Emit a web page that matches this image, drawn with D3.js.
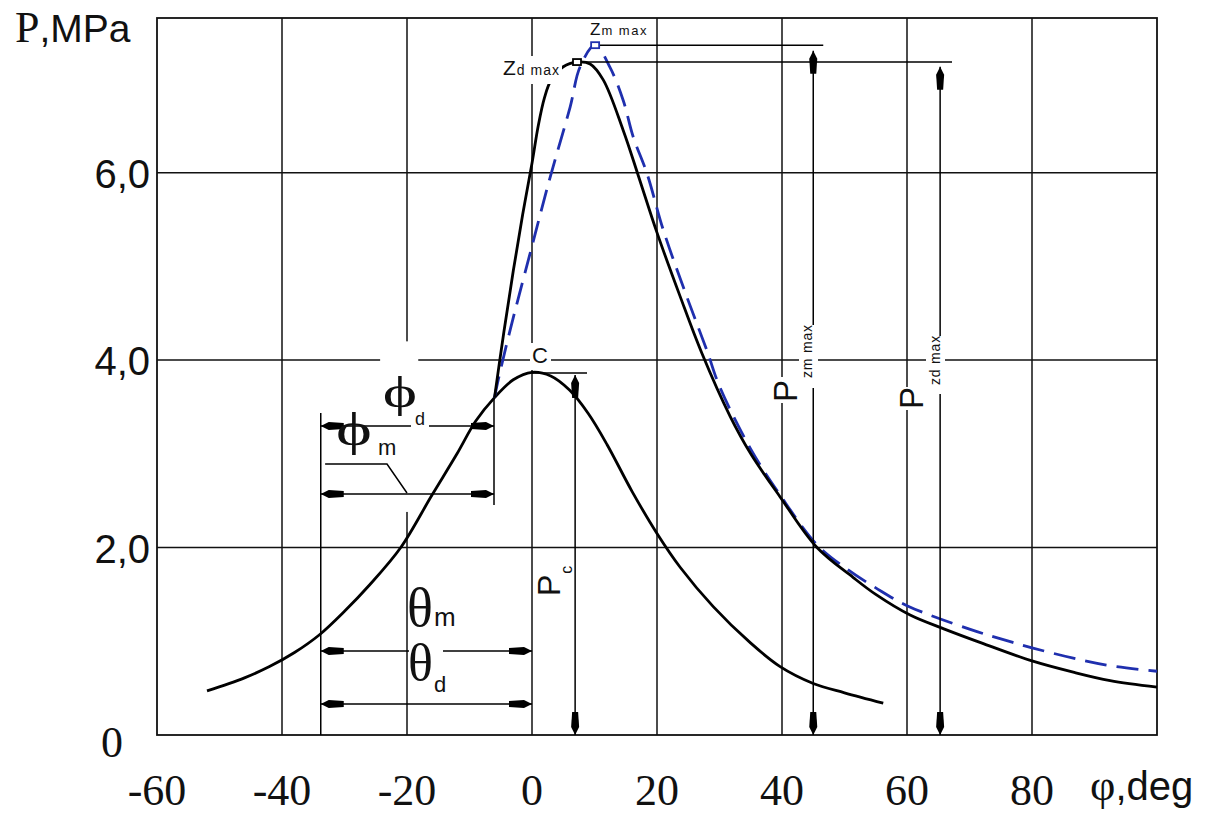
<!DOCTYPE html>
<html><head><meta charset="utf-8">
<script src="https://cdn.jsdelivr.net/npm/d3@7"></script>
<style>body{margin:0;background:#fff}</style>
</head><body>
<svg id="chart" width="1217" height="819"></svg>
<script>
// ---------- data ----------
const xTicks = [-60, -40, -20, 0, 20, 40, 60, 80];
const xGrid = [-40, -20, 0, 20, 40, 60, 80];
const yGrid = [2, 4, 6];
const yTickLabels = ["2,0", "4,0", "6,0"];
const yZeroLabel = "0";

// compression curve (Pc)
const compDeg = [-52, -46, -42, -38, -34, -30, -26, -21, -16, -12, -9, -6, -3, 0, 3, 6, 9, 12, 16, 20, 23.7, 29, 35, 39.7, 45, 50, 56.2];
const compP   = [0.47, 0.61, 0.73, 0.88, 1.07, 1.32, 1.6, 2.0, 2.56, 3.0, 3.35, 3.6, 3.79, 3.87, 3.83, 3.68, 3.43, 3.1, 2.6, 2.15, 1.79, 1.37, 0.98, 0.73, 0.55, 0.45, 0.34];

// combustion, solid black (d)
const dDeg = [-6, -4.5, -3, -1.5, 0, 1, 2, 3, 5, 7.2, 9.3, 11.4, 14.6, 17, 20, 23.7, 27.2, 31.7, 35, 39.7, 45.6, 51.4, 55, 60.5, 66, 72, 80, 86.6, 92.5, 100];
const dP   = [3.6, 4.3, 4.95, 5.55, 6.1, 6.5, 6.8, 6.98, 7.13, 7.18, 7.16, 6.99, 6.45, 5.97, 5.36, 4.68, 4.07, 3.4, 3.0, 2.54, 2.0, 1.68, 1.5, 1.28, 1.13, 0.98, 0.79, 0.67, 0.58, 0.51];

// combustion, blue dashed (m)
const mDeg = [-6, -5.4, -3.5, -0.3, 2.9, 6.1, 7.7, 10.1, 12.5, 14.6, 16.2, 18.4, 21, 24.8, 28, 30, 35, 39.7, 45.6, 50.4, 55, 60, 70, 76.8, 80, 86.6, 92.5, 100];
const mP   = [3.6, 3.79, 4.32, 5.14, 5.95, 6.7, 7.13, 7.36, 7.12, 6.77, 6.38, 5.99, 5.39, 4.67, 4.1, 3.72, 3.05, 2.56, 2.03, 1.77, 1.57, 1.38, 1.13, 0.99, 0.93, 0.82, 0.74, 0.68];

// annotation reference values (deg / MPa)
const phiStartDeg = -33.8, junctionDeg = -6.08, junctionP = 3.595;
const phiDLevel = 3.297, phiMLevel = 2.571, thetaMLevel = 0.896, thetaDLevel = 0.331;
const cPeak = [0, 3.862], pcArrowDeg = 6.9, cTickEnd = 8.8;
const zdPeak = [7.2, 7.18], zmPeak = [10.1, 7.36];
const pzdDeg = 65.3, pzdEnd = 67.2, pzmDeg = 45.0, pzmEnd = 46.6;

// ---------- setup ----------
const W = 1217, H = 819;
const M = {l: 157, r: 60, t: 18, b: 84};
const svg = d3.select("#chart");
const x = d3.scaleLinear().domain([-60, 100]).range([M.l, W - M.r]);
const y = d3.scaleLinear().domain([0, 7.65]).range([H - M.b, M.t]);
const SANS = "'Liberation Sans', Arial, sans-serif";
const SERIF = "'Liberation Serif', 'Times New Roman', serif";
const BLUE = "#1f2fae";

svg.append("rect").attr("width", W).attr("height", H).attr("fill", "#fff");

const defs = svg.append("defs");
defs.append("marker").attr("id", "arr")
  .attr("viewBox", "-24 -5 25 10").attr("refX", 0).attr("refY", 0)
  .attr("markerWidth", 25).attr("markerHeight", 10)
  .attr("markerUnits", "userSpaceOnUse").attr("orient", "auto-start-reverse")
  .append("path").attr("d", "M0,0 L-8,-4 L-23,-3 L-23,3 L-8,4 Z").attr("fill", "#000");

// ---------- grid ----------
const grid = svg.append("g").attr("stroke", "#111").attr("stroke-width", 1.5);
grid.selectAll(".gx").data(xGrid).join("line")
  .attr("x1", d => x(d)).attr("x2", d => x(d)).attr("y1", y(7.65)).attr("y2", y(0));
grid.selectAll(".gy").data(yGrid).join("line")
  .attr("x1", x(-60)).attr("x2", x(100)).attr("y1", d => y(d)).attr("y2", d => y(d));
svg.append("rect").attr("x", x(-60)).attr("y", y(7.65))
  .attr("width", x(100) - x(-60)).attr("height", y(0) - y(7.65))
  .attr("fill", "none").attr("stroke", "#111").attr("stroke-width", 1.8);

// white patch in the original drawing
svg.append("rect").attr("x", x(-24.3)).attr("y", y(4.2)).attr("width", x(-18.2) - x(-24.3))
  .attr("height", y(2.38) - y(4.2)).attr("fill", "#fff");

// ---------- axes labels ----------
svg.selectAll(".xt").data(xTicks).join("text")
  .attr("x", d => x(d)).attr("y", 805).attr("text-anchor", "middle")
  .attr("font-family", SERIF).attr("font-size", 44).attr("fill", "#111")
  .text(d => d);
svg.selectAll(".yt").data(yGrid).join("text")
  .attr("x", 150).attr("y", d => y(d) + 15).attr("text-anchor", "end")
  .attr("font-family", SANS).attr("font-size", 40).attr("fill", "#111")
  .text((d, i) => yTickLabels[i]);
svg.append("text").attr("x", 112).attr("y", y(0) + 22).attr("text-anchor", "middle")
  .attr("font-family", SERIF).attr("font-size", 44).attr("fill", "#111").text(yZeroLabel);

const pt = svg.append("text").attr("x", 15).attr("y", 42).attr("fill", "#111");
pt.append("tspan").attr("font-family", SERIF).attr("font-size", 44).text("P");
pt.append("tspan").attr("font-family", SANS).attr("font-size", 39).text(",MPa");

const ft = svg.append("text").attr("x", 1090).attr("y", 800).attr("fill", "#111");
ft.append("tspan").attr("font-family", SERIF).attr("font-size", 44).text("φ");
ft.append("tspan").attr("font-family", SANS).attr("font-size", 40).text(",deg");

// ---------- curves ----------
const line = d3.line().x(d => x(d[0])).y(d => y(d[1])).curve(d3.curveCatmullRom.alpha(0.5));
svg.append("path").datum(d3.zip(compDeg, compP)).attr("d", line)
  .attr("fill", "none").attr("stroke", "#000").attr("stroke-width", 2.8);
svg.append("path").datum(d3.zip(mDeg, mP)).attr("d", line)
  .attr("fill", "none").attr("stroke", BLUE).attr("stroke-width", 2.8).attr("stroke-dasharray", "22,10");
svg.append("path").datum(d3.zip(dDeg, dP)).attr("d", line)
  .attr("fill", "none").attr("stroke", "#000").attr("stroke-width", 2.8);

// ---------- dimension lines ----------
const dim = svg.append("g").attr("stroke", "#000").attr("stroke-width", 1.5).attr("fill", "none");
function seg(x1, y1, x2, y2, arrows) {
  const l = dim.append("line").attr("x1", x(x1)).attr("y1", y(y1)).attr("x2", x(x2)).attr("y2", y(y2));
  if (arrows) l.attr("marker-start", "url(#arr)").attr("marker-end", "url(#arr)");
  return l;
}
// extension lines
seg(phiStartDeg, 3.435, phiStartDeg, 0);
seg(junctionDeg, junctionP, junctionDeg, 2.454);
// phi lines
seg(phiStartDeg, phiDLevel, junctionDeg, phiDLevel, true);
seg(phiStartDeg, phiMLevel, junctionDeg, phiMLevel, true);
dim.append("path").attr("d", d3.line()([[x(-33.1), y(2.891)], [x(-23.2), y(2.891)], [x(-20), y(2.582)]]));
// theta lines
seg(phiStartDeg, thetaMLevel, 0, thetaMLevel, true);
seg(phiStartDeg, thetaDLevel, 0, thetaDLevel, true);
// Pc
seg(cPeak[0], cPeak[1], cTickEnd, cPeak[1]);
seg(pcArrowDeg, cPeak[1] - 0.02, pcArrowDeg, 0, true);
// Pz max
seg(zmPeak[0], zmPeak[1], pzmEnd, zmPeak[1]);
seg(zdPeak[0], zdPeak[1], pzdEnd, zdPeak[1]);
seg(pzmDeg, zmPeak[1] - 0.06, pzmDeg, 0, true);
seg(pzdDeg, zdPeak[1] - 0.05, pzdDeg, 0, true);

// peak markers
svg.append("rect").attr("x", x(zmPeak[0]) - 4).attr("y", y(zmPeak[1]) - 3).attr("width", 8).attr("height", 6)
  .attr("fill", "#fff").attr("stroke", BLUE).attr("stroke-width", 1.8);
svg.append("rect").attr("x", x(zdPeak[0]) - 4).attr("y", y(zdPeak[1]) - 3).attr("width", 8).attr("height", 6)
  .attr("fill", "#fff").attr("stroke", "#000").attr("stroke-width", 1.8);

// ---------- labels ----------
function bg(x0, y0, x1, y1) {
  svg.append("rect").attr("x", x0).attr("y", y0).attr("width", x1 - x0).attr("height", y1 - y0).attr("fill", "#fff");
}
function label(tx, ty, rot, parts, sx) {
  const g = svg.append("g").attr("transform", `translate(${tx},${ty}) rotate(${rot})` + (sx ? ` scale(${sx},1)` : ""));
  const t = g.append("text").attr("fill", "#111");
  parts.forEach(p => {
    const s = t.append("tspan").attr("font-family", p.f).attr("font-size", p.s).text(p.t);
    if (p.dx) s.attr("dx", p.dx);
    if (p.dy) s.attr("dy", p.dy);
    if (p.ls) s.attr("letter-spacing", p.ls);
  });
  return g;
}

// Zd max / Zm max
bg(499, 56, 562, 84);
label(503, 75, 0, [{t: "Z", f: SANS, s: 21}, {t: "d max", f: SANS, s: 14, dx: 1, ls: 1}]);
bg(588, 20, 652, 38);
label(590, 35, 0, [{t: "Z", f: SANS, s: 17}, {t: "m max", f: SANS, s: 13, dx: 1, ls: 1.5}]);

// C
bg(530, 343, 551, 370);
label(532, 363, 0, [{t: "C", f: SANS, s: 22}]);

// phi labels
bg(411, 412, 429, 430);
label(400, 407, 0, [{t: "ϕ", f: SERIF, s: 45}], 1.45).select("text").attr("text-anchor", "middle");
label(415, 425, 0, [{t: "d", f: SANS, s: 18}]);
label(354, 445, 0, [{t: "ϕ", f: SERIF, s: 47}], 1.45).select("text").attr("text-anchor", "middle");
label(378, 455, 0, [{t: "m", f: SANS, s: 22}]);

// theta labels
label(407, 626, 0, [{t: "θ", f: SERIF, s: 54}, {t: "m", f: SANS, s: 26, dx: 1}]);
bg(409, 641, 443, 664);
label(408, 680, 0, [{t: "θ", f: SERIF, s: 52}, {t: "d", f: SANS, s: 22, dx: 1, dy: 12}]);

// Pc
label(560, 596, -90, [{t: "P", f: SANS, s: 32}, {t: "c", f: SANS, s: 16, dx: 1, dy: 12}]);

// Pzm max
bg(772, 377, 799, 403);
bg(799, 325, 818, 388);
label(797, 402, -90, [{t: "P", f: SANS, s: 33}, {t: "zm max", f: SANS, s: 14, dx: 2, dy: 15, ls: 0.8}]);
// Pzd max
bg(899, 387, 925, 410);
bg(926, 336, 945, 394);
label(923, 409, -90, [{t: "P", f: SANS, s: 33}, {t: "zd max", f: SANS, s: 14, dx: 2, dy: 17, ls: 0.8}]);
</script>
</body></html>
